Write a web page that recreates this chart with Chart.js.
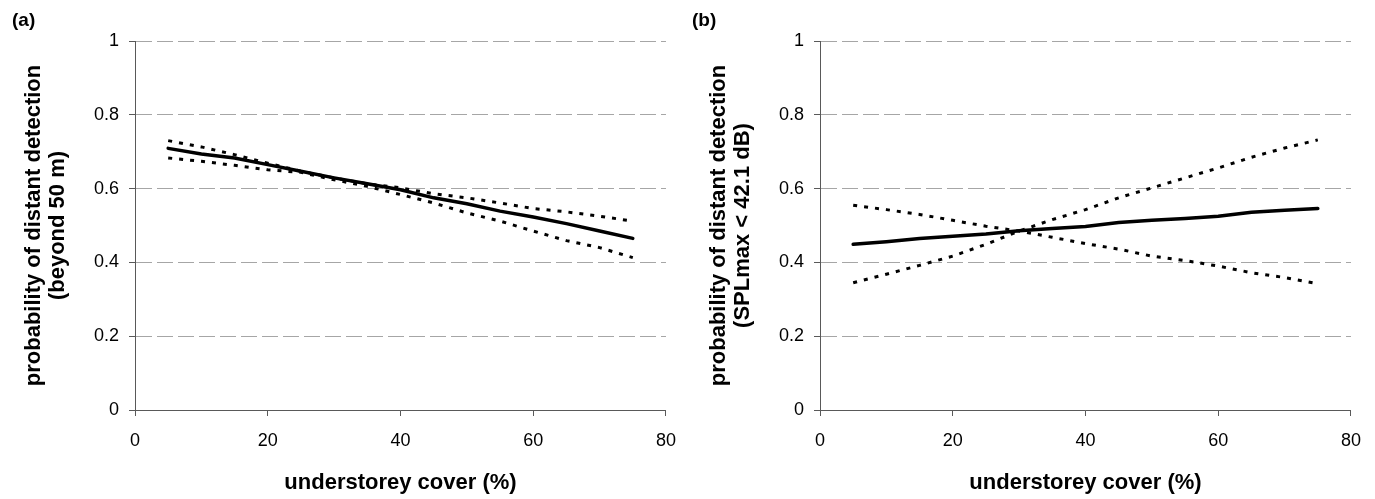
<!DOCTYPE html>
<html>
<head>
<meta charset="utf-8">
<script src="https://cdn.jsdelivr.net/npm/chart.js@4"></script>
<style>
  html, body { margin: 0; padding: 0; background: #fff; }
  body { width: 1375px; height: 499px; position: relative; overflow: hidden; font-family: "Liberation Sans", Arial, sans-serif; }
  .panel { position: absolute; top: 0; width: 690px; height: 499px; }
  .tag { position: absolute; top: 9px; font-weight: bold; font-size: 19px; color: #000; }
</style>
</head>
<body>
<div class="panel" style="left:0"><canvas id="chartA"></canvas></div>
<div class="panel" style="left:685px"><canvas id="chartB"></canvas></div>
<div class="tag" style="left:12px">(a)</div>
<div class="tag" style="left:692px">(b)</div>

<script>
// x 値（下層植生被覆 %）
const cover = [5, 10, 15, 20, 25, 30, 35, 40, 45, 50, 55, 60, 65, 70, 75];

// (a) beyond 50 m
const aFit   = [0.709, 0.694, 0.683, 0.665, 0.647, 0.629, 0.613, 0.597, 0.575, 0.559, 0.539, 0.523, 0.505, 0.485, 0.465];
const aUpper = [0.730, 0.713, 0.692, 0.669, 0.647, 0.629, 0.613, 0.602, 0.586, 0.575, 0.561, 0.546, 0.537, 0.525, 0.512];
const aLower = [0.683, 0.674, 0.663, 0.651, 0.644, 0.624, 0.606, 0.584, 0.561, 0.534, 0.512, 0.485, 0.459, 0.440, 0.413];

// (b) SPLmax < 42.1 dB
const bFit   = [0.449, 0.456, 0.465, 0.471, 0.477, 0.486, 0.492, 0.497, 0.508, 0.514, 0.519, 0.525, 0.536, 0.541, 0.546];
const bRise  = [0.345, 0.368, 0.392, 0.417, 0.449, 0.485, 0.516, 0.543, 0.575, 0.602, 0.629, 0.656, 0.685, 0.710, 0.732];
const bFall  = [0.555, 0.543, 0.530, 0.514, 0.498, 0.485, 0.468, 0.451, 0.436, 0.417, 0.405, 0.390, 0.372, 0.359, 0.342];

const xTitle = 'understorey cover (%)';
const yTitleA = ['probability of distant detection', '(beyond 50 m)'];
const yTitleB = ['probability of distant detection', '(SPLmax < 42.1 dB)'];

const FONT = '"Liberation Sans", Arial, sans-serif';
const AXIS = '#595959';

function pts(ys) {
  return ys.map((y, i) => ({ x: cover[i], y: y }));
}

function fitLine(ys) {
  return { data: pts(ys), borderColor: '#000', borderWidth: 3.5, pointRadius: 0, tension: 0, borderCapStyle: 'round' };
}

function dotLine(ys) {
  return { data: pts(ys), borderColor: '#000', borderWidth: 3, borderDash: [4, 7], pointRadius: 0, tension: 0, borderCapStyle: 'butt' };
}

function makeChart(id, datasets, yTitle) {
  const ctx = document.getElementById(id).getContext('2d');
  return new Chart(ctx, {
    type: 'line',
    data: { datasets: datasets },
    options: {
      responsive: false,
      animation: false,
      events: [],
      layout: { padding: { top: 41, right: 23, bottom: 0, left: 0 } },
      plugins: { legend: { display: false }, tooltip: { enabled: false } },
      scales: {
        x: {
          type: 'linear',
          min: 0, max: 80,
          afterFit: s => { s.height = 89; },
          ticks: { stepSize: 20, padding: 14, color: '#000', font: { family: FONT, size: 18 } },
          grid: { drawOnChartArea: false, drawTicks: true, tickLength: 6, color: AXIS },
          border: { color: AXIS, width: 1 },
          title: { display: true, text: xTitle, color: '#000', padding: { top: 0, bottom: 3 }, font: { family: FONT, size: 22, weight: 'bold' } }
        },
        y: {
          min: 0, max: 1,
          afterFit: s => { s.width = 135; },
          ticks: {
            stepSize: 0.2, padding: 10, color: '#000',
            font: { family: FONT, size: 18 },
            callback: v => String(+v.toFixed(1))
          },
          grid: { color: '#a6a6a6', tickLength: 6, tickColor: AXIS, tickBorderDash: [] },
          border: { color: AXIS, width: 1, dash: [16, 5] },
          title: { display: true, text: yTitle, color: '#000', padding: { top: 22, bottom: 0 }, font: { family: FONT, size: 22, weight: 'bold', lineHeight: 1.1 } }
        }
      }
    }
  });
}

function setSize(id) {
  const c = document.getElementById(id);
  c.width = 690; c.height = 499;
  c.style.width = '690px'; c.style.height = '499px';
}

setSize('chartA');
setSize('chartB');
makeChart('chartA', [fitLine(aFit), dotLine(aUpper), dotLine(aLower)], yTitleA);
makeChart('chartB', [fitLine(bFit), dotLine(bRise), dotLine(bFall)], yTitleB);
</script>
</body>
</html>
